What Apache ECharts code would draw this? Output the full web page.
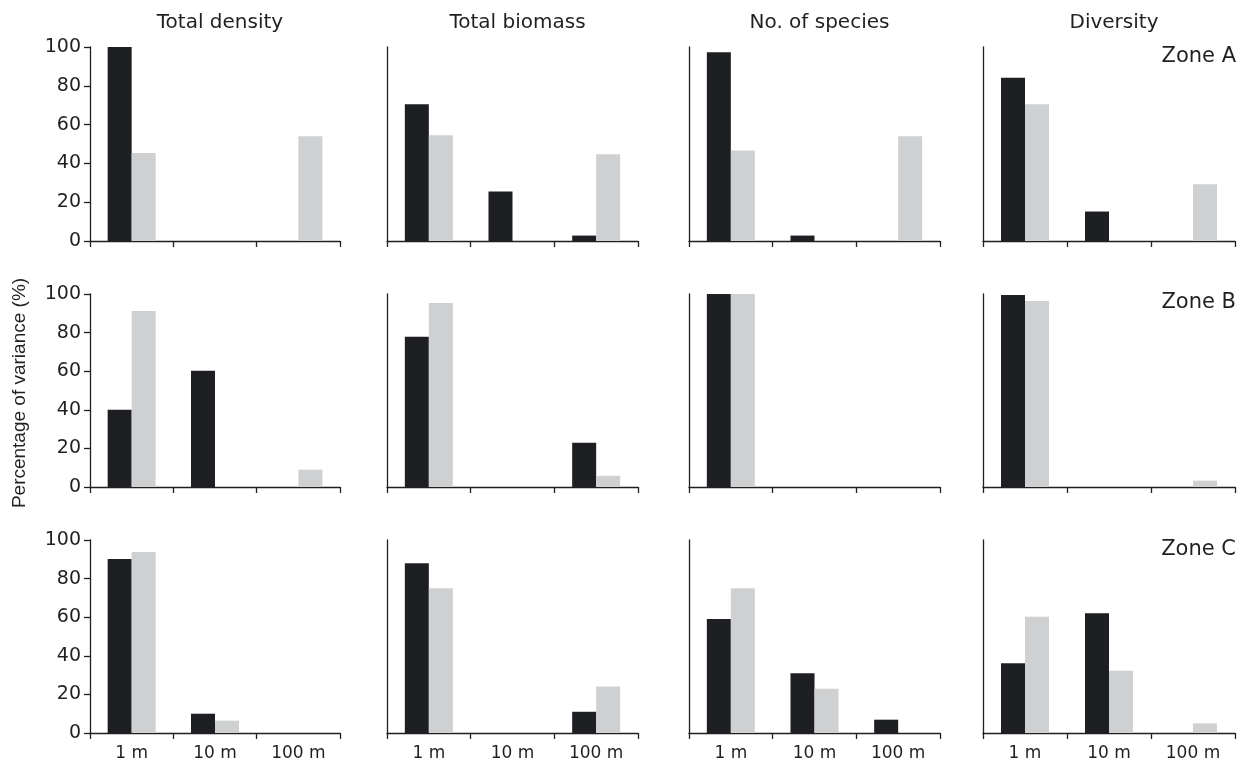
<!DOCTYPE html>
<html>
<head>
<meta charset="utf-8">
<script src="https://cdn.jsdelivr.net/npm/echarts@6/dist/echarts.min.js"></script>
<style>
html,body{margin:0;padding:0;background:#fff;}
#chart{width:1241px;height:765px;}
</style>
</head>
<body>
<div id="chart"></div>
<script>
// ---- data ----
const categories = ['1 m', '10 m', '100 m'];
const columnTitles = ['Total density', 'Total biomass', 'No. of species', 'Diversity'];
const zoneLabels = ['Zone A', 'Zone B', 'Zone C'];
const yAxisTitle = 'Percentage of variance (%)';

// each array: [density, biomass, species, diversity], each entry per category (1 m, 10 m, 100 m)
const zoneA_black = [[100, 0, 0], [70.5, 25.5, 2.8], [97.3, 2.8, 0], [84.2, 15.2, 0]];
const zoneA_grey  = [[45.4, 0, 54], [54.5, 0, 44.7], [46.7, 0, 54], [70.5, 0, 29.2]];
const zoneB_black = [[40, 60.2, 0], [77.9, 0, 22.9], [100, 0, 0], [99.5, 0, 0]];
const zoneB_grey  = [[91.2, 0, 9], [95.3, 0, 5.8], [100, 0, 0], [96.4, 0, 3.3]];
const zoneC_black = [[90.2, 10, 0], [88, 0, 11], [59.1, 31, 6.9], [36.2, 62, 0]];
const zoneC_grey  = [[93.8, 6.4, 0], [75, 0, 24.1], [75, 22.9, 0], [60.2, 32.2, 5]];

const blackRows = [zoneA_black, zoneB_black, zoneC_black];
const greyRows = [zoneA_grey, zoneB_grey, zoneC_grey];

// ---- layout ----
const FONT = 'DejaVu Sans';
const TXT = '#231f20';
const colLeft = [90, 387, 689, 983];
const colWidth = [250, 251, 251, 252];
const rowTop = [47, 294, 540];
const rowHeight = [194, 193, 193];

const grids = [], xAxes = [], yAxes = [], series = [];
let idx = 0;
for (let r = 0; r < 3; r++) {
  for (let c = 0; c < 4; c++) {
    grids.push({left: colLeft[c], top: rowTop[r], width: colWidth[c], height: rowHeight[r], containLabel: false});
    xAxes.push({
      type: 'category', gridIndex: idx, data: categories,
      axisLine: {show: true, lineStyle: {color: TXT, width: 1.3}},
      axisTick: {show: true, length: 6, lineStyle: {color: TXT, width: 1.3}},
      axisLabel: {show: r === 2, margin: 12, fontFamily: FONT, fontSize: 17, color: TXT},
      splitLine: {show: false}
    });
    yAxes.push({
      type: 'value', gridIndex: idx, min: 0, max: 100, interval: 20,
      axisLine: {show: true, lineStyle: {color: TXT, width: 1.3}},
      axisTick: {show: c === 0, length: 6, lineStyle: {color: TXT, width: 1.3}},
      axisLabel: {show: c === 0, margin: 9, fontFamily: FONT, fontSize: 19, color: TXT},
      splitLine: {show: false}
    });
    series.push({
      type: 'bar', xAxisIndex: idx, yAxisIndex: idx, data: blackRows[r][c],
      barWidth: 24, barGap: '0%', itemStyle: {color: '#1e1f22'}, silent: true
    });
    series.push({
      type: 'bar', xAxisIndex: idx, yAxisIndex: idx, data: greyRows[r][c],
      barWidth: 24, barGap: '0%', itemStyle: {color: '#cfd0d2'}, silent: true
    });
    idx++;
  }
}

const titles = columnTitles.map((t, c) => ({
  text: t, left: colLeft[c] + colWidth[c] / 2, top: 8, textAlign: 'center',
  textStyle: {fontFamily: FONT, fontSize: 20, fontWeight: 'normal', color: TXT}
}));

const zoneCenters = [57, 303, 550];
const graphics = zoneLabels.map((z, r) => ({
  type: 'text', x: 1236, y: zoneCenters[r],
  style: {text: z, fontFamily: FONT, fontSize: 21, fill: TXT, textAlign: 'right', textVerticalAlign: 'middle'}
}));
graphics.push({
  type: 'text', x: 20, y: 393, rotation: Math.PI / 2,
  style: {text: yAxisTitle, fontFamily: 'Liberation Sans', fontSize: 19, fill: TXT, textAlign: 'center', textVerticalAlign: 'middle'}
});

const chart = echarts.init(document.getElementById('chart'), null, {renderer: 'canvas'});
chart.setOption({
  animation: false,
  backgroundColor: '#ffffff',
  title: titles,
  grid: grids,
  xAxis: xAxes,
  yAxis: yAxes,
  series: series,
  graphic: graphics
});
</script>
</body>
</html>
